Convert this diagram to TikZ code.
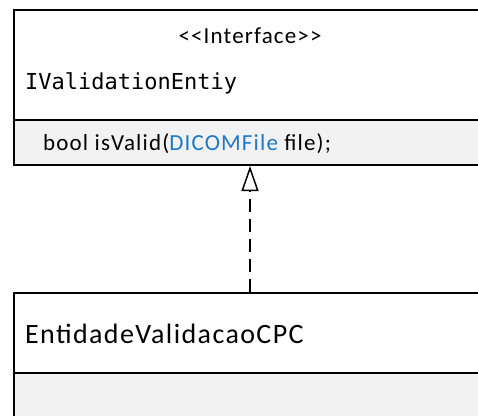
\documentclass[tikz,border=0pt]{standalone}
\usepackage{fontspec}
\setmainfont{Carlito}
\newfontfamily\codefont{DejaVu Sans Mono}
\newfontfamily\spacedfont[LetterSpace=5]{Carlito}
\usetikzlibrary{arrows.meta}
\definecolor{methfill}{HTML}{F2F2F2}
\definecolor{typeblue}{HTML}{1E78C8}
\tikzset{
  compart/.style={draw=black, line width=2pt, anchor=north west, inner sep=0pt, minimum width=472pt},
  txt/.style={anchor=base west, inner sep=0pt},
  realize/.style={line width=1.5pt, dash pattern=on 13pt off 7pt, -{Triangle[open, length=25pt, width=17pt, line width=1.5pt]}}
}
\begin{document}
\begin{tikzpicture}[x=1pt, y=-1pt]
\useasboundingbox (0,0) rectangle (478,415);
% interface box
\node[compart, fill=white, minimum height=110pt] (ifaceHead) at (13,9) {};
\node[compart, fill=methfill, minimum height=45pt] (ifaceMeth) at (13,119) {};
% implementing class box
\node[compart, fill=white, minimum height=80pt] (implHead) at (13,292) {};
\node[compart, fill=methfill, minimum height=60pt] (implMeth) at (13,372) {};
% texts
\node[anchor=base, inner sep=0pt, font=\spacedfont\fontsize{23}{27}\selectfont] (stereo) at (250,43) {<{}<Interface>{}>};
\node[txt, font=\codefont\fontsize{22}{26}\selectfont] (ifaceName) at (25,89) {IValidationEntiy};
\node[txt, font=\spacedfont\fontsize{23}{27}\selectfont] (ifaceOp) at (43,150) {bool isValid(\textcolor{typeblue}{DICOMFile} file);};
\node[txt, font=\spacedfont\fontsize{28}{32}\selectfont] (implName) at (25,343) {EntidadeValidacaoCPC};
% realization
\draw[realize] (implHead.north) -- (ifaceMeth.south);
\end{tikzpicture}
\end{document}
